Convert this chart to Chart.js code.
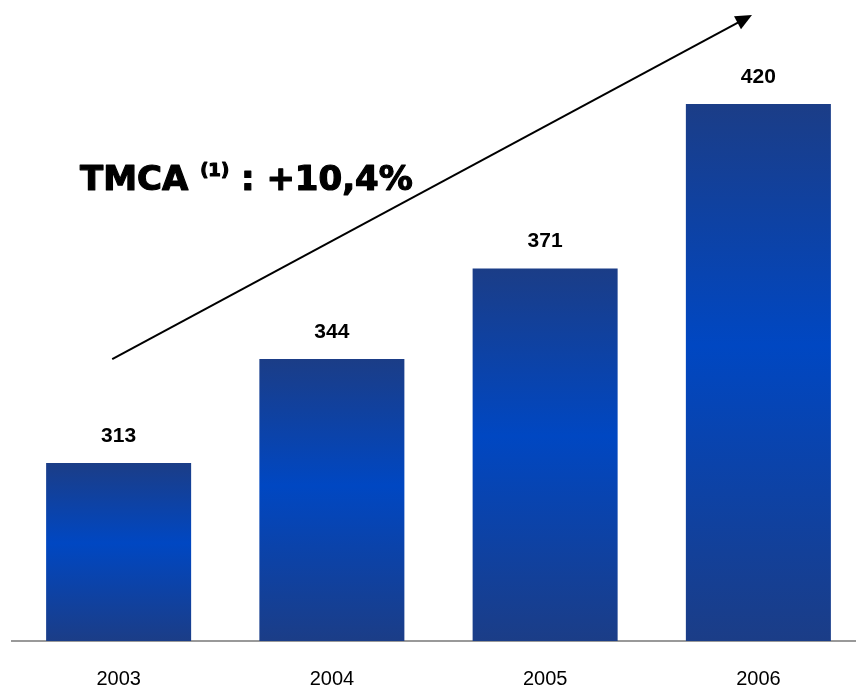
<!DOCTYPE html>
<html>
<head>
<meta charset="utf-8">
<script src="https://cdn.jsdelivr.net/npm/chart.js@4"></script>
<style>
  html, body { margin: 0; padding: 0; background: #fff; overflow: hidden; }
  #wrap { width: 866px; height: 688px; }
</style>
</head>
<body>
<div id="wrap"><canvas id="chart"></canvas></div>
<script>
/* --------------- Data --------------------- */
const years = ["2003", "2004", "2005", "2006"];
const revenue = [313, 344, 371, 420];

/* --------------- Growth Arrow (category index, value) --------------------- */
const arrowFrom = [-0.03, 344];
const arrowTo = [2.97, 446.5];

/* --------------- Bar Gradient --------------------- */
function barGradient(ctx) {
  const chart = ctx.chart;
  const area = chart.chartArea;
  if (!area || ctx.type !== "data") return "#1B3D87";
  const yScale = chart.scales.y;
  const top = yScale.getPixelForValue(revenue[ctx.dataIndex]);
  const g = chart.ctx.createLinearGradient(0, top, 0, area.bottom);
  g.addColorStop(0, "#1B3D87");
  g.addColorStop(0.45, "#0047C2");
  g.addColorStop(1, "#1B3D87");
  return g;
}

/* --------------- Value Labels + Arrow + TMCA --------------------- */
const overlay = {
  id: "overlay",
  afterDatasetsDraw(chart) {
    const c = chart.ctx;
    const meta = chart.getDatasetMeta(0);
    c.save();
    c.fillStyle = "#000";
    c.textAlign = "center";
    c.textBaseline = "middle";
    c.font = "bold 21px 'Liberation Sans', Arial, sans-serif";
    meta.data.forEach((bar, i) => {
      c.fillText(String(revenue[i]), bar.x, bar.y - 27);
    });

    // arrow
    const xs = chart.scales.x, ys = chart.scales.y;
    const x1 = xs.getPixelForValue(arrowFrom[0]), y1 = ys.getPixelForValue(arrowFrom[1]);
    const x2 = xs.getPixelForValue(arrowTo[0]), y2 = ys.getPixelForValue(arrowTo[1]);
    const ang = Math.atan2(y2 - y1, x2 - x1);
    const head = 18;
    c.strokeStyle = "#000";
    c.lineWidth = 2;
    c.beginPath();
    c.moveTo(x1, y1);
    c.lineTo(x2 - Math.cos(ang) * head * 0.8, y2 - Math.sin(ang) * head * 0.8);
    c.stroke();
    c.beginPath();
    c.moveTo(x2, y2);
    c.lineTo(x2 - head * Math.cos(ang - 0.42), y2 - head * Math.sin(ang - 0.42));
    c.lineTo(x2 - head * Math.cos(ang + 0.42), y2 - head * Math.sin(ang + 0.42));
    c.closePath();
    c.fill();

    // growth rate caption, stroked a little for a heavier look
    c.textAlign = "left";
    c.textBaseline = "alphabetic";
    c.lineWidth = 1.2;
    c.lineJoin = "round";
    const big = "bold 34px 'DejaVu Sans', Verdana, sans-serif";
    const small = "bold 18px 'DejaVu Sans', Verdana, sans-serif";
    const parts = [
      [big, "TMCA ", 0],
      [small, "(1)", -14],
      [big, " : +10,4%", 0],
    ];
    let x = 80;
    const base = 190;
    parts.forEach(([font, txt, dy]) => {
      c.font = font;
      c.fillText(txt, x, base + dy);
      c.strokeText(txt, x, base + dy);
      x += c.measureText(txt).width;
    });
    c.restore();
  }
};

/* --------------- Chart --------------------- */
new Chart(document.getElementById("chart"), {
  type: "bar",
  plugins: [overlay],
  data: {
    labels: years,
    datasets: [{
      data: revenue,
      backgroundColor: barGradient,
      borderWidth: 0,
      barPercentage: 0.68,
      categoryPercentage: 1,
    }],
  },
  options: {
    responsive: true,
    maintainAspectRatio: false,
    animation: false,
    layout: { padding: { left: 12, right: 1, top: 10, bottom: 0 } },
    plugins: { legend: { display: false }, tooltip: { enabled: false } },
    scales: {
      y: { display: false, min: 260, max: 448 },
      x: {
        grid: { display: false, drawTicks: false },
        border: { display: true, color: "#999999", width: 2 },
        ticks: {
          color: "#000",
          padding: 26,
          font: { size: 20, family: "'Liberation Sans', Arial, sans-serif" },
        },
        afterFit: (scale) => { scale.height = 47; },
      },
    },
  },
});
</script>
</body>
</html>
